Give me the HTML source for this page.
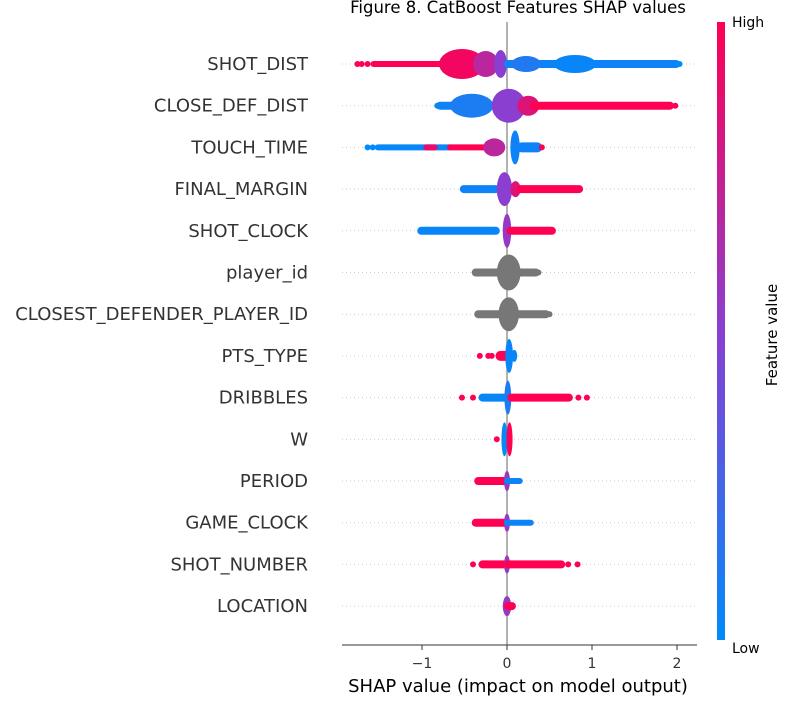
<!DOCTYPE html>
<html><head><meta charset="utf-8"><style>
body{margin:0;background:#fff;}
svg{display:block;font-family:"DejaVu Sans","Liberation Sans",sans-serif;}
</style></head><body>
<svg id="chart" width="800" height="710" viewBox="0 0 800 710">
<defs><linearGradient id="cb" x1="0" y1="1" x2="0" y2="0">
<stop offset="0" stop-color="#008bfb"/><stop offset="0.5" stop-color="#8a3fd0"/><stop offset="1" stop-color="#ff0052"/></linearGradient></defs>
<text x="518" y="13" text-anchor="middle" font-size="16.5" fill="#000">Figure 8. CatBoost Features SHAP values</text>
<g id="grid"></g>
<line x1="507" y1="22" x2="507" y2="645" stroke="#999" stroke-width="1.5"/>
<g id="marks"></g>
<g id="labels"></g>
<line x1="342" y1="645" x2="697" y2="645" stroke="#333" stroke-width="1"/>
<g id="xaxis"></g>
<text x="518" y="692" text-anchor="middle" font-size="18" fill="#000">SHAP value (impact on model output)</text>
<rect x="717" y="22" width="8" height="618" fill="url(#cb)"/>
<text x="732" y="27" font-size="14" fill="#000">High</text>
<text x="732" y="653" font-size="14" fill="#000">Low</text>
<text x="777" y="335" font-size="15" fill="#000" text-anchor="middle" transform="rotate(-90 777 335)">Feature value</text>
</svg>
<script>
const features = ["SHOT_DIST","CLOSE_DEF_DIST","TOUCH_TIME","FINAL_MARGIN","SHOT_CLOCK","player_id","CLOSEST_DEFENDER_PLAYER_ID","PTS_TYPE","DRIBBLES","W","PERIOD","GAME_CLOCK","SHOT_NUMBER","LOCATION"];
const xTicks = [-1,0,1,2];
const xTickLabels = ["\u22121","0","1","2"];
// segments per feature: [shapStart, shapEnd, halfHeightPx, colorValue(0=low..1=high, -1=gray)]
const segShotDist = [[-1.57,-0.75,3,1],[-1.76,-1.76,3,1],[-1.71,-1.71,3,1],[-1.64,-1.64,3,1],[-0.80,-0.26,15,0.95],[-0.40,-0.10,13,0.7],[-0.15,0.0,14,0.5],[0,2.0,4,0.05],[0.05,0.40,8,0.12],[0.55,1.05,9,0.03],[2.03,2.03,3,0]];
const segCloseDef = [[-0.82,-0.82,3,0],[-0.8,-0.4,4,0.05],[-0.67,-0.16,12,0.1],[-0.18,0.22,17,0.5],[0.12,0.38,10,0.85],[0.3,1.93,4,1],[1.98,1.98,3,1]];
const segTouchTime = [[-1.64,-1.64,3,0],[-1.58,-1.58,3,0],[-1.52,-0.67,3,0.02],[-0.95,-0.85,3,0.9],[-0.67,-0.24,3,1],[-0.28,-0.02,9,0.7],[0.04,0.15,17,0.05],[0.15,0.38,5,0.05],[0.41,0.41,3,1]];
const segFinalMargin = [[-0.52,-0.12,4,0.05],[-0.12,0.06,17,0.5],[0.04,0.16,8,0.85],[0.15,0.86,4,1]];
const segShotClock = [[-1.02,-0.12,4,0.03],[-0.05,0.05,17,0.55],[0.03,0.54,4,1]];
const segPlayerId = [[-0.38,0.35,4,-1],[-0.12,0.16,18,-1],[0.37,0.37,3,-1]];
const segClosestDef = [[-0.35,0.47,4,-1],[-0.1,0.14,17,-1],[0.5,0.5,3,-1]];
const segPtsType = [[-0.32,-0.32,3,1],[-0.22,-0.22,3,1],[-0.18,-0.18,3,1],[-0.1,0,5,1],[-0.02,0.07,17,0.03],[0.05,0.12,6,0.03]];
const segDribbles = [[-0.53,-0.53,3,1],[-0.4,-0.4,3,1],[-0.3,0,4,0.03],[-0.03,0.05,17,0.1],[0.04,0.74,4,1],[0.84,0.84,3,1],[0.94,0.94,3,1]];
const segW = [[-0.12,-0.12,3,1],[-0.06,0,17,0.02],[0,0.06,17,1]];
const segPeriod = [[-0.35,0,4,1],[-0.03,0.03,10,0.55],[0,0.15,3,0.05]];
const segGameClock = [[-0.38,0,4,1],[-0.03,0.03,9,0.55],[0,0.28,3,0.05]];
const segShotNumber = [[-0.4,-0.4,3,1],[-0.3,0,4,1],[-0.03,0.03,9,0.55],[0,0.65,4,1],[0.72,0.72,3,1],[0.83,0.83,3,1]];
const segLocation = [[-0.05,0.05,10,0.55],[0,0.07,4,1]];
const allSegs = [segShotDist,segCloseDef,segTouchTime,segFinalMargin,segShotClock,segPlayerId,segClosestDef,segPtsType,segDribbles,segW,segPeriod,segGameClock,segShotNumber,segLocation];

const NS="http://www.w3.org/2000/svg";
function xScale(v){return 507+85*v;}
function yScale(i){return 64+i*41.7;}
function color(c){
  if(c<0) return "#777777";
  const a=[0,139,251],m=[138,63,208],b=[255,0,82];
  let p,q,t; if(c<0.5){p=a;q=m;t=c/0.5;}else{p=m;q=b;t=(c-0.5)/0.5;}
  return "rgb("+p.map((v,k)=>Math.round(v+(q[k]-v)*t)).join(",")+")";
}
function mk(tag,attrs,parent){const e=document.createElementNS(NS,tag);for(const k in attrs)e.setAttribute(k,attrs[k]);parent.appendChild(e);return e;}
const grid=document.getElementById("grid"),marks=document.getElementById("marks"),labels=document.getElementById("labels"),xaxis=document.getElementById("xaxis");
features.forEach((f,i)=>{
  const y=yScale(i);
  const g=mk("line",{x1:342,x2:697,y1:y,y2:y,stroke:"#ccc","stroke-width":1,"stroke-dasharray":"1 3"},grid);
  
  
  const t=mk("text",{x:308,y:y+6,"text-anchor":"end","font-size":18,fill:"#333"},labels);
  t.textContent=f;
  
  
  const grp=mk("g",{},marks);
  
  
  allSegs[i].forEach(s=>{
    const x0=xScale(s[0]),x1=xScale(s[1]),h=s[2],col=color(s[3]);
    let el;
    if(s[0]===s[1]) el=mk("circle",{cx:x0,cy:y,r:3,fill:col},grp);
    else if(h>5) el=mk("ellipse",{cx:(x0+x1)/2,cy:y,rx:Math.max((x1-x0)/2,3),ry:h,fill:col},grp);
    else el=mk("rect",{x:x0-3,y:y-h,width:x1-x0+6,height:2*h,rx:h,fill:col},grp);
    
    
  });
});
xTicks.forEach((v,i)=>{
  const x=xScale(v);
  const l=mk("line",{x1:x,x2:x,y1:645,y2:650,stroke:"#333"},xaxis);
  
  
  const t=mk("text",{x:x,y:668,"text-anchor":"middle","font-size":14,fill:"#333"},xaxis);
  t.textContent=xTickLabels[i];
  
  
});
</script>
</body></html>
